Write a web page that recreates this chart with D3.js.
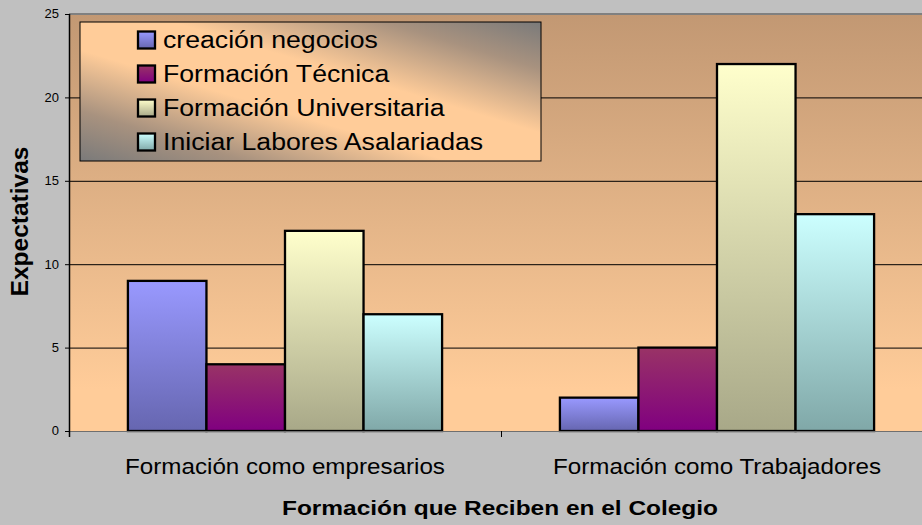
<!DOCTYPE html>
<html><head><meta charset="utf-8">
<script src="https://cdn.jsdelivr.net/npm/d3@7"></script>
<style>html,body{margin:0;padding:0;background:#c0c0c0;overflow:hidden}svg{display:block}</style>
</head><body><svg id="chart" width="922" height="525"></svg>
<script>
const categories = ["Formación como empresarios", "Formación como Trabajadores"];
const seriesNames = ["creación negocios", "Formación Técnica", "Formación Universitaria", "Iniciar Labores Asalariadas"];
const creacionNegocios = [9, 2];
const formacionTecnica = [4, 5];
const formacionUniversitaria = [12, 22];
const iniciarLabores = [7, 13];
const yTicks = [0, 5, 10, 15, 20, 25];
const xTitle = "Formación que Reciben en el Colegio";
const yTitle = "Expectativas";

(function () {
const seriesValues = [creacionNegocios, formacionTecnica, formacionUniversitaria, iniciarLabores];
const gradColors = [["#9999ff", "#6666b0"], ["#993366", "#800080"], ["#ffffcc", "#a8a888"], ["#ccffff", "#80a8a8"]];
const FONT = "'Liberation Sans', Arial, sans-serif";

const svg = d3.select("#chart");
const W = 922, H = 525;
const pLeft = 69, pTop = 14, pBottom = 431, catW = 432;
const pRight = pLeft + catW * categories.length;

svg.append("rect").attr("width", W).attr("height", H).attr("fill", "#c0c0c0");

const defs = svg.append("defs");
const bg = defs.append("linearGradient").attr("id", "bg").attr("x1", 0).attr("y1", 0).attr("x2", 0).attr("y2", 1);
bg.append("stop").attr("offset", 0).attr("stop-color", "#c29873");
bg.append("stop").attr("offset", 0.9).attr("stop-color", "#ffcc99");
bg.append("stop").attr("offset", 1).attr("stop-color", "#ffcc99");

const lg = defs.append("linearGradient").attr("id", "lg").attr("x1", 0).attr("y1", 1).attr("x2", 1).attr("y2", 0);
lg.append("stop").attr("offset", 0).attr("stop-color", "#7a7a7a");
lg.append("stop").attr("offset", 0.18).attr("stop-color", "#a8927f");
lg.append("stop").attr("offset", 0.4).attr("stop-color", "#ffcc99");
lg.append("stop").attr("offset", 0.6).attr("stop-color", "#ffcc99");
lg.append("stop").attr("offset", 0.83).attr("stop-color", "#a8927f");
lg.append("stop").attr("offset", 1).attr("stop-color", "#7a7a7a");

gradColors.forEach((c, i) => {
  const g = defs.append("linearGradient").attr("id", "s" + i).attr("x1", 0).attr("y1", 0).attr("x2", 0).attr("y2", 1);
  g.append("stop").attr("offset", 0).attr("stop-color", c[0]);
  g.append("stop").attr("offset", 1).attr("stop-color", c[1]);
});

const x0 = d3.scaleBand().domain(categories).range([pLeft, pRight]).paddingInner(0).paddingOuter(0);
const x1 = d3.scaleBand().domain(seriesNames).range([0, x0.bandwidth()]).paddingInner(0).paddingOuter(0.75);
const y = d3.scaleLinear().domain([0, 25]).range([pBottom, pTop]);

svg.append("rect").attr("x", pLeft).attr("y", pTop).attr("width", pRight - pLeft).attr("height", pBottom - pTop)
  .attr("fill", "url(#bg)");

svg.append("g").selectAll("line").data(yTicks.filter(t => t > 0 && t < 25)).join("line")
  .attr("x1", pLeft).attr("x2", pRight).attr("y1", d => y(d) + 0.5).attr("y2", d => y(d) + 0.5)
  .attr("stroke", "#000").attr("stroke-width", 1);

svg.append("line").attr("x1", pLeft).attr("x2", pRight).attr("y1", pTop).attr("y2", pTop)
  .attr("stroke", "#808080").attr("stroke-width", 2);

const groups = svg.append("g").selectAll("g").data(categories).join("g")
  .attr("transform", d => `translate(${x0(d)},0)`);
groups.selectAll("rect").data((c, ci) => seriesNames.map((s, si) => ({ s, si, v: seriesValues[si][ci] }))).join("rect")
  .attr("x", d => x1(d.s)).attr("y", d => y(d.v)).attr("width", x1.bandwidth()).attr("height", d => y(0) - y(d.v))
  .attr("fill", d => `url(#s${d.si})`).attr("stroke", "#000").attr("stroke-width", 2.3);

svg.append("line").attr("x1", pLeft).attr("x2", pRight).attr("y1", pBottom + 0.5).attr("y2", pBottom + 0.5)
  .attr("stroke", "#6f6f6f").attr("stroke-width", 1.2);
const catBounds = categories.map(c => x0(c)).concat([pRight]);
svg.append("g").selectAll("line").data(catBounds).join("line")
  .attr("x1", d => d + 0.5).attr("x2", d => d + 0.5).attr("y1", pBottom).attr("y2", pBottom + 6)
  .attr("stroke", "#000").attr("stroke-width", 1);

svg.append("g").selectAll("text").data(categories).join("text")
  .attr("transform", d => `translate(${x0(d) + x0.bandwidth() / 2},474) scale(1.1,1)`)
  .attr("text-anchor", "middle").attr("font-family", FONT).attr("font-size", 22).attr("fill", "#000")
  .text(d => d);

const yAxisG = svg.append("g").attr("transform", `translate(${pLeft},0)`)
  .call(d3.axisLeft(y).tickValues(yTicks).tickSize(4).tickPadding(6).tickFormat(d3.format("d")));
yAxisG.attr("font-size", null).attr("font-family", null);
yAxisG.select(".domain").attr("stroke", "#000").attr("stroke-width", 1.5).attr("d", `M0.5,${pTop}V${pBottom + 6}`);
yAxisG.selectAll(".tick line").attr("stroke", "#000");
yAxisG.selectAll(".tick text").attr("font-family", FONT).attr("font-size", 13).attr("fill", "#000").attr("dy", "0.3em");

svg.append("text").attr("transform", `translate(${(pLeft + pRight) / 2 - 1},515) scale(1.165,1)`)
  .attr("text-anchor", "middle").attr("font-family", FONT).attr("font-weight", "bold").attr("font-size", 21)
  .attr("fill", "#000").text(xTitle);
svg.append("text").attr("transform", `translate(28,${(pTop + pBottom) / 2 - 1}) rotate(-90)`)
  .attr("text-anchor", "middle").attr("font-family", FONT).attr("font-weight", "bold").attr("font-size", 24.5)
  .attr("fill", "#000").text(yTitle);

const legend = svg.append("g");
legend.append("rect").attr("x", 80).attr("y", 22).attr("width", 461).attr("height", 139)
  .attr("fill", "url(#lg)").attr("stroke", "#000").attr("stroke-width", 1);
const items = legend.selectAll("g.item").data(seriesNames).join("g").attr("class", "item")
  .attr("transform", (d, i) => `translate(0,${40 + i * 34})`);
items.append("rect").attr("x", 138).attr("y", -8.5).attr("width", 17).attr("height", 17)
  .attr("fill", (d, i) => `url(#s${i})`).attr("stroke", "#000").attr("stroke-width", 2.3);
items.append("text").attr("transform", "translate(163,8.3) scale(1.16,1)")
  .attr("font-family", FONT).attr("font-size", 23).attr("fill", "#000").text(d => d);
})();
</script></body></html>
